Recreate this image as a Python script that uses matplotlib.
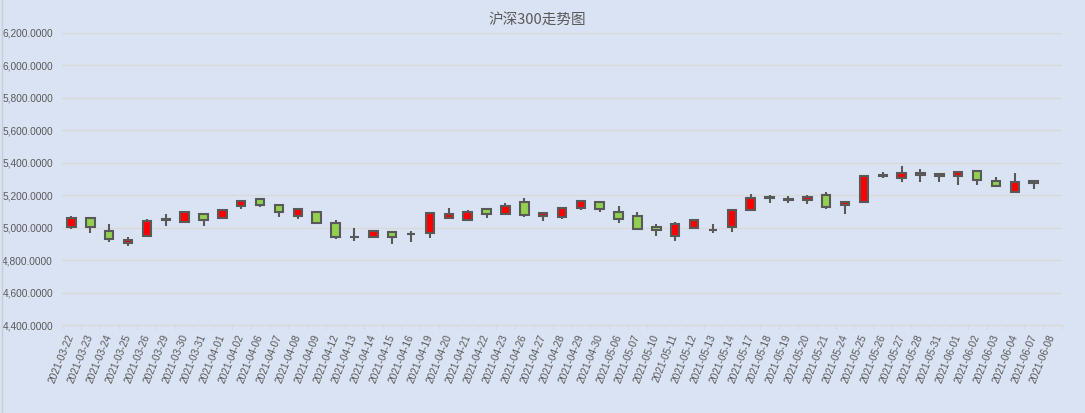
import matplotlib
matplotlib.use("Agg")
import matplotlib.pyplot as plt
from matplotlib.lines import Line2D
from matplotlib.ticker import FuncFormatter, FixedLocator
import numpy as np

dates = ["2021-03-22", "2021-03-23", "2021-03-24", "2021-03-25", "2021-03-26",
         "2021-03-29", "2021-03-30", "2021-03-31", "2021-04-01", "2021-04-02",
         "2021-04-06", "2021-04-07", "2021-04-08", "2021-04-09", "2021-04-12",
         "2021-04-13", "2021-04-14", "2021-04-15", "2021-04-16", "2021-04-19",
         "2021-04-20", "2021-04-21", "2021-04-22", "2021-04-23", "2021-04-26",
         "2021-04-27", "2021-04-28", "2021-04-29", "2021-04-30", "2021-05-06",
         "2021-05-07", "2021-05-10", "2021-05-11", "2021-05-12", "2021-05-13",
         "2021-05-14", "2021-05-17", "2021-05-18", "2021-05-19", "2021-05-20",
         "2021-05-21", "2021-05-24", "2021-05-25", "2021-05-26", "2021-05-27",
         "2021-05-28", "2021-05-31", "2021-06-01", "2021-06-02", "2021-06-03",
         "2021-06-04", "2021-06-07", "2021-06-08"]

nan = float("nan")
open_ = [5005, 5056, 4980, 4903, 4950, 5047, 5036, 5083, 5056, 5130,
         5175, 5136, 5073, 5097, 5026, 4940, 4944, 4970, 4960, 4964,
         5061, 5048, 5112, 5085, 5155, 5073, 5067, 5122, 5155, 5093,
         5069, 5001, 4950, 4999, 4983, 5005, 5110, 5182, 5170, 5167,
         5198, 5136, 5159, 5317, 5307, 5333, 5315, 5315, 5346, 5284,
         5221, 5284, nan]
close = [5056, 5005, 4927, 4921, 5038, 5050, 5093, 5044, 5106, 5161,
         5136, 5097, 5112, 5030, 4944, 4943, 4976, 4944, 4963, 5087,
         5083, 5093, 5085, 5130, 5075, 5087, 5118, 5161, 5116, 5054,
         4993, 4987, 5020, 5044, 4986, 5106, 5180, 5185, 5173, 5186,
         5128, 5155, 5315, 5321, 5333, 5321, 5327, 5340, 5290, 5253,
         5278, 5272, nan]
high = [5071, 5063, 5021, 4944, 5050, 5081, 5104, 5083, 5112, 5167,
        5180, 5136, 5122, 5097, 5044, 4995, 4985, 4970, 4976, 5087,
        5118, 5106, 5118, 5149, 5180, 5091, 5118, 5167, 5161, 5130,
        5093, 5020, 5032, 5050, 5022, 5112, 5206, 5200, 5192, 5198,
        5216, 5155, 5323, 5340, 5376, 5358, 5329, 5340, 5354, 5309,
        5333, 5284, nan]
low = [4991, 4964, 4911, 4884, 4950, 5009, 5030, 5011, 5054, 5112,
       5124, 5063, 5054, 5024, 4931, 4919, 4938, 4896, 4913, 4938,
       5052, 5042, 5061, 5079, 5067, 5038, 5054, 5110, 5093, 5030,
       4993, 4950, 4919, 4993, 4968, 4974, 5110, 5153, 5149, 5147,
       5116, 5085, 5159, 5305, 5282, 5282, 5278, 5264, 5264, 5253,
       5214, 5239, nan]

y_ticks = [4400, 4600, 4800, 5000, 5200, 5400, 5600, 5800, 6000, 6200]
title = "沪深300走势图"

BG = "#DAE3F3"
EDGE = "#595959"
UP = "#FF0000"
DOWN = "#92D050"
GRID = "#D9D9D9"
TXT = "#595959"

plt.rcParams['font.family'] = ['Liberation Sans', 'DejaVu Sans']

fig = plt.figure(figsize=(10.85, 4.13), dpi=100, facecolor=BG)
ax = fig.add_axes([62 / 1085, 1 - 325 / 413, 1000 / 1085, 292.5 / 413])
ax.set_facecolor(BG)

o = np.array(open_, dtype=float)
c = np.array(close, dtype=float)
h = np.array(high, dtype=float)
l = np.array(low, dtype=float)
x = np.arange(len(dates))
valid = ~np.isnan(o)

colors = [UP if cc >= oo else DOWN for oo, cc in zip(o[valid], c[valid])]
ax.vlines(x[valid], l[valid], h[valid], color=EDGE, linewidth=1.5, zorder=2)
ax.bar(x[valid], np.abs(c[valid] - o[valid]), bottom=np.minimum(o[valid], c[valid]),
       width=0.45, color=colors, edgecolor=EDGE, linewidth=1.5, zorder=3)

ax.set_xlim(-0.5, len(dates) - 0.5)
ax.set_ylim(y_ticks[0], y_ticks[-1])
ax.set_yticks(y_ticks)
ax.yaxis.set_major_formatter(FuncFormatter(lambda v, p: f"{v:,.4f}"))
ax.grid(axis='y', color=GRID, linewidth=1.0, zorder=0)
ax.set_axisbelow(True)

ax.set_xticks(x)
ax.set_xticklabels(dates, rotation=68, ha='right', va='center',
                   rotation_mode='anchor', fontsize=7.3, color=TXT)
ax.xaxis.set_minor_locator(FixedLocator(np.arange(len(dates) + 1) - 0.5))
ax.tick_params(axis='x', which='major', length=0, pad=7)
ax.tick_params(axis='x', which='minor', length=3, color=GRID, width=1)
ax.tick_params(axis='y', length=0, pad=6.5, labelsize=7.3, labelcolor=TXT)

for s in ['left', 'right', 'top']:
    ax.spines[s].set_visible(False)
ax.spines['bottom'].set_color(GRID)
ax.spines['bottom'].set_linewidth(1.0)

fig.text(0.495, 1 - 20 / 413, title, ha='center', va='center', fontsize=10.5,
         color=TXT, family=['Noto Sans CJK SC', 'DejaVu Sans'])

fig.add_artist(Line2D([1.5 / 1085, 1.5 / 1085], [0, 1], transform=fig.transFigure,
                      color="#C8CED8", linewidth=1.0))

fig.savefig("out.png", dpi=100, facecolor=BG)
